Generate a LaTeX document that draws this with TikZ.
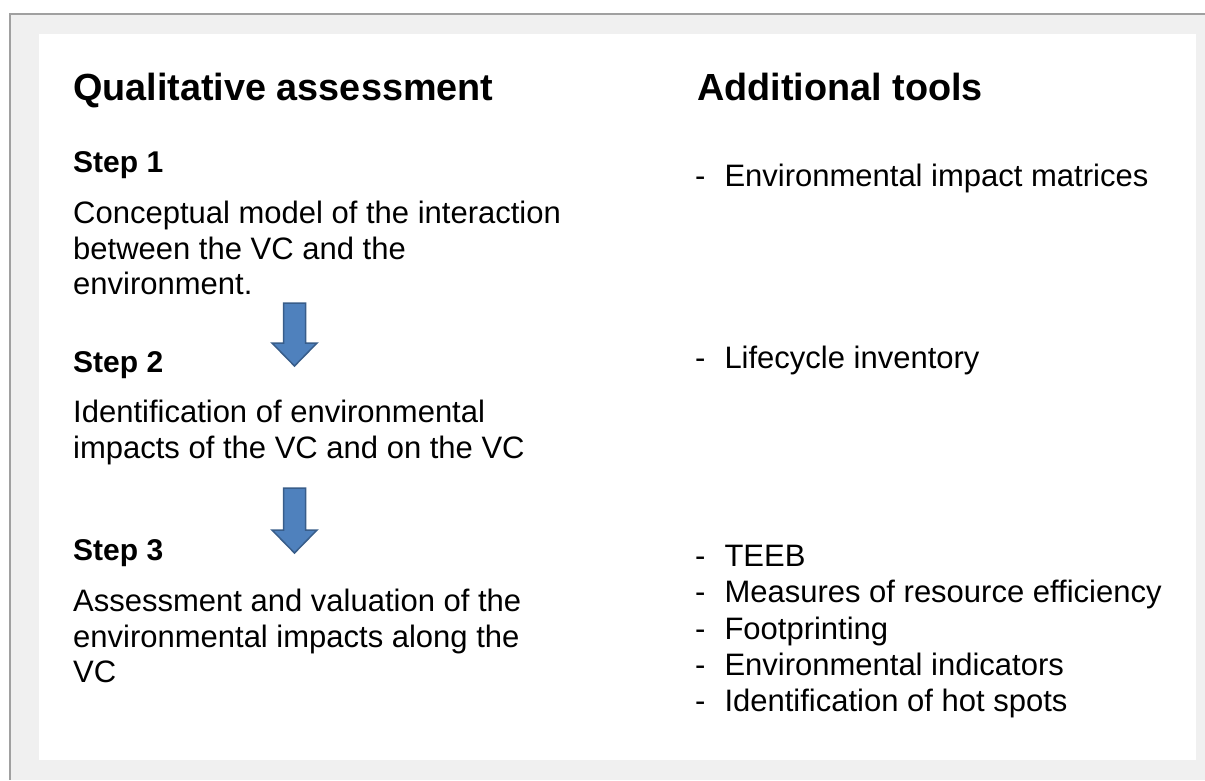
\documentclass[tikz,border=0pt]{standalone}
\usepackage{fontspec}
\setmainfont{Liberation Sans}
\usepackage{tikz}
\usetikzlibrary{positioning,calc}

\definecolor{panelgray}{HTML}{F0F0F0}
\definecolor{framegray}{HTML}{A0A0A0}
\definecolor{arrowblue}{HTML}{4F81BD}
\definecolor{arrowedge}{HTML}{385D8A}

\begin{document}
\begin{tikzpicture}[
    x=1pt, y=-1pt,
    heading/.style={anchor=base west, inner sep=0pt, font=\fontsize{37.8}{40}\selectfont\bfseries},
    stephead/.style={anchor=base west, inner sep=0pt, font=\fontsize{30}{34}\selectfont\bfseries},
    body/.style={anchor=north west, inner sep=0pt, align=left, font=\fontsize{31}{35.5}\selectfont},
    tool/.style={anchor=base west, inner sep=0pt, align=left, font=\fontsize{31}{36.3}\selectfont},
    toollist/.style={tool, anchor=north west},
    blockarrow/.style={fill=arrowblue, draw=arrowedge, line width=1.5pt, line join=miter}
]
    \useasboundingbox (0,0) rectangle (1205,780);

    % panel
    \fill [panelgray] (10,14) rectangle (1205,780);
    \draw [framegray, line width=1.5pt] (10,780) -- (10,14) -- (1205,14);
    \fill [white] (39,34) rectangle (1196,760);

    % left column
    \node [heading] (qual) at (73,100) {Qualitative assessment};

    \node [stephead] (step1) at (73,172) {Step 1};
    \node [body] (text1) at (73,201) {Conceptual model of the interaction\\between the VC and the\\environment.};

    \node [stephead] (step2) at (73,372) {Step 2};
    \node [body] (text2) at (73,400) {Identification of environmental\\impacts of the VC and on the VC};

    \node [stephead] (step3) at (73,560) {Step 3};
    \node [body] (text3) at (73,589) {Assessment and valuation of the\\environmental impacts along the\\VC};

    % arrows between the steps
    \coordinate (arr1) at (294.5,303);
    \coordinate (arr2) at (294.5,488);
    \draw [blockarrow] ($(arr1)+(-11,0)$) -- ++(22,0) -- ++(0,40) -- ++(11.5,0)
        -- ++(-22.5,23) -- ++(-22.5,-23) -- ++(11.5,0) -- cycle;
    \draw [blockarrow] ($(arr2)+(-11,0)$) -- ++(22,0) -- ++(0,42) -- ++(11.5,0)
        -- ++(-22.5,23) -- ++(-22.5,-23) -- ++(11.5,0) -- cycle;

    % right column
    \node [heading] (addl) at (697,100) {Additional tools};

    \node [tool] (tools1) at (695,186) {-\hspace{19pt}Environmental impact matrices};
    \node [tool] (tools2) at (695,368) {-\hspace{19pt}Lifecycle inventory};
    \node [toollist] (tools3) at (695,545) {-\hspace{19pt}TEEB\\
        -\hspace{19pt}Measures of resource efficiency\\
        -\hspace{19pt}Footprinting\\
        -\hspace{19pt}Environmental indicators\\
        -\hspace{19pt}Identification of hot spots};

\end{tikzpicture}
\end{document}
